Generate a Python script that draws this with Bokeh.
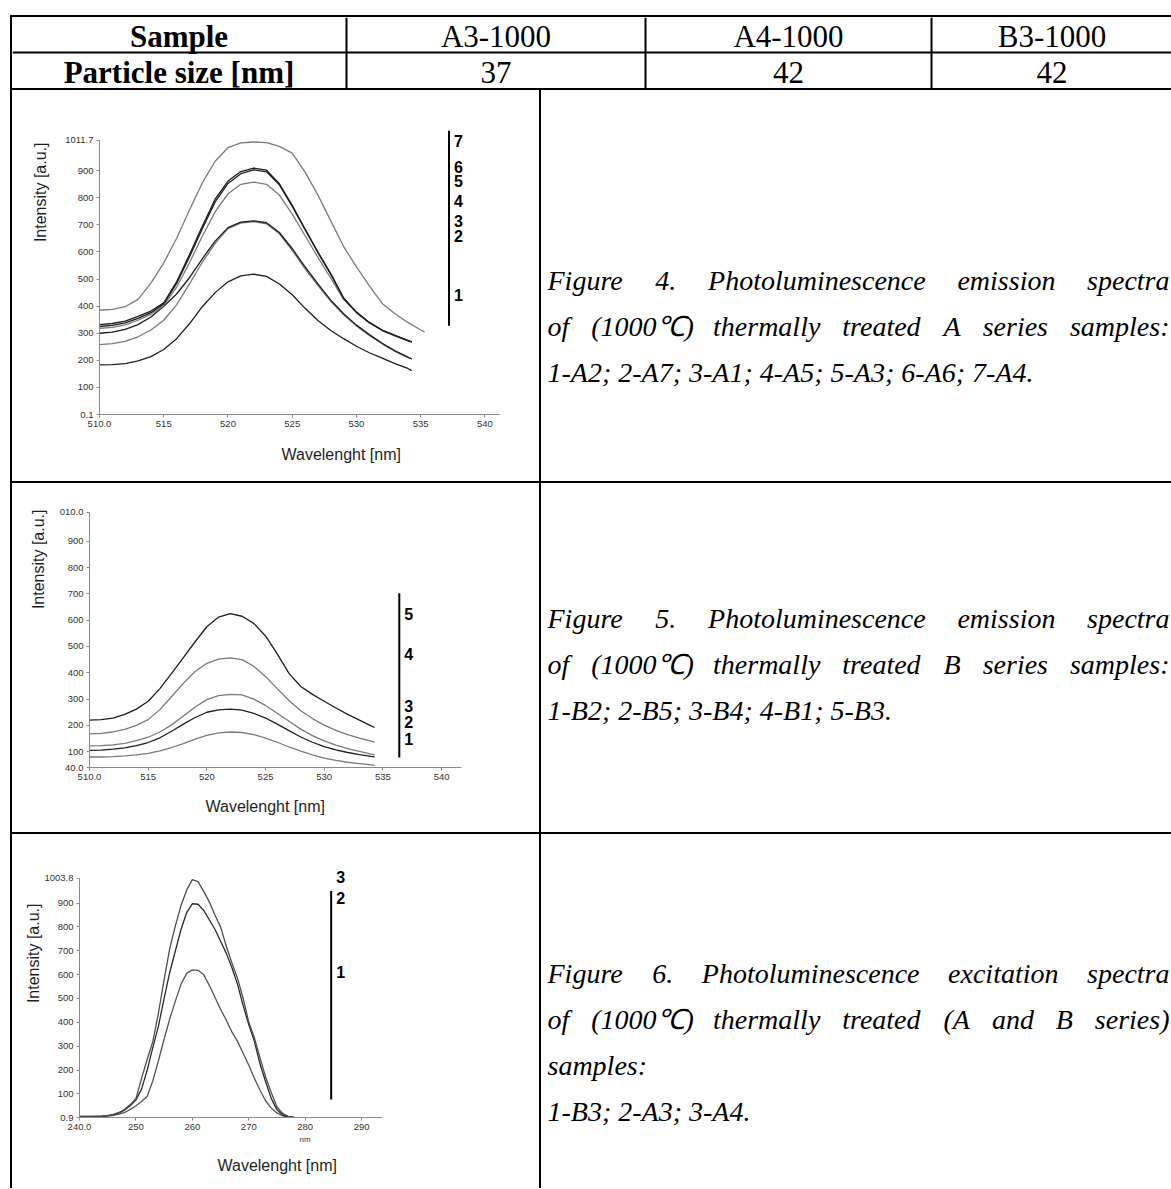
from bokeh.plotting import figure
from bokeh.layouts import column, row
from bokeh.models import Range1d, FixedTicker, Title
from bokeh.core.properties import value
from bokeh.embed import file_html
from bokeh.resources import INLINE

SANS = "Liberation Sans"
SERIF = "Liberation Serif"
DARK = "#1e1e1e"
GREY = "#7a7a7a"
AXIS = "#8a8a8a"

# ---------------- table texts ----------------
header_row1 = ["Sample", "A3-1000", "A4-1000", "B3-1000"]
header_row2 = ["Particle size [nm]", "37", "42", "42"]

caption_fig4 = ["Figure 4. Photoluminescence emission spectra",
                "of (1000\u2103) thermally treated A series samples:",
                "1-A2; 2-A7; 3-A1; 4-A5; 5-A3; 6-A6; 7-A4."]
caption_fig5 = ["Figure 5. Photoluminescence emission spectra",
                "of (1000\u2103) thermally treated B series samples:",
                "1-B2; 2-B5; 3-B4; 4-B1; 5-B3."]
caption_fig6 = ["Figure 6. Photoluminescence excitation spectra",
                "of (1000\u2103) thermally treated (A and B series)",
                "samples:",
                "1-B3; 2-A3; 3-A4."]

# ---------------- Figure 4 data (emission, A series) ----------------
fig4_wavelength = [510, 511, 512, 513, 514, 515, 516, 517, 518, 519, 520, 521, 522,
                   523, 524, 525, 526, 527, 528, 529, 530, 531, 532, 533, 534, 534.3]
fig4_wavelength_7 = [510, 511, 512, 513, 514, 515, 516, 517, 518, 519, 520, 521, 522,
                     523, 524, 525, 526, 527, 528, 529, 530, 531, 532, 533, 534, 535, 535.3]
fig4_curve1 = [183, 184, 188, 198, 214, 240, 280, 335, 398, 450, 490, 512, 518,
               510, 482, 442, 392, 347, 310, 280, 252, 228, 208, 188, 170, 162]
fig4_curve2 = [258, 262, 270, 287, 312, 348, 405, 482, 562, 632, 686, 707, 712,
               704, 667, 606, 538, 476, 418, 368, 327, 292, 261, 233, 211, 205]
fig4_curve3 = [300, 304, 314, 332, 360, 400, 445, 505, 575, 640, 690, 710, 715,
               708, 672, 612, 545, 482, 422, 372, 330, 295, 263, 235, 212, 205]
fig4_curve4 = [318, 322, 331, 348, 370, 402, 470, 560, 658, 748, 815, 850, 858,
               850, 810, 740, 660, 580, 503, 425, 376, 339, 310, 290, 272, 268]
fig4_curve5 = [325, 329, 338, 355, 376, 408, 484, 582, 686, 785, 853, 889, 903,
               896, 848, 768, 682, 597, 517, 428, 377, 339, 311, 291, 273, 268]
fig4_curve6 = [332, 336, 345, 362, 382, 412, 490, 590, 695, 795, 862, 897, 910,
               902, 852, 772, 685, 600, 520, 430, 378, 340, 312, 292, 274, 268]
fig4_curve7 = [385, 388, 398, 425, 485, 560, 650, 755, 855, 935, 985, 1003, 1006,
               1004, 990, 965, 895, 810, 715, 620, 545, 475, 410, 372, 340, 312, 305]
fig4_xticks = [510, 515, 520, 525, 530, 535, 540]
fig4_xtick_labels = ["510.0", "515", "520", "525", "530", "535", "540"]
fig4_yticks = [0.1, 100, 200, 300, 400, 500, 600, 700, 800, 900, 1011.7]
fig4_ytick_labels = ["0.1", "100", "200", "300", "400", "500", "600", "700", "800", "900", "1011.7"]
fig4_legend_labels = ["7", "6", "5", "4", "3", "2", "1"]
fig4_legend_levels = [1011, 915, 862, 788, 714, 660, 443]
fig4_legend_bar = [328, 1048]

# ---------------- Figure 5 data (emission, B series) ----------------
fig5_wavelength = [510, 511, 512, 513, 514, 515, 516, 517, 518, 519, 520, 521, 522,
                   523, 524, 525, 526, 527, 528, 529, 530, 531, 532, 533, 534, 534.3]
fig5_curve1 = [80, 80, 81, 84, 88, 94, 103, 116, 131, 148, 162, 172, 175,
               173, 165, 152, 136, 118, 102, 88, 76, 67, 60, 55, 50, 48]
fig5_curve2 = [105, 106, 110, 115, 123, 135, 153, 178, 205, 230, 250, 259, 262,
               258, 246, 228, 205, 180, 156, 136, 119, 107, 97, 89, 82, 80]
fig5_curve3 = [122, 123, 126, 132, 142, 155, 175, 202, 236, 270, 298, 313, 318,
               316, 300, 276, 246, 216, 186, 161, 141, 125, 112, 101, 91, 88]
fig5_curve4 = [168, 170, 175, 185, 200, 222, 260, 310, 360, 405, 436, 452, 457,
               450, 425, 386, 340, 295, 256, 226, 201, 181, 165, 152, 140, 136]
fig5_curve5 = [220, 222, 228, 242, 262, 292, 340, 398, 458, 518, 575, 612, 625,
               615, 588, 540, 472, 398, 348, 318, 292, 266, 242, 220, 198, 192]
fig5_xticks = [510, 515, 520, 525, 530, 535, 540]
fig5_xtick_labels = ["510.0", "515", "520", "525", "530", "535", "540"]
fig5_yticks = [40, 100, 200, 300, 400, 500, 600, 700, 800, 900, 1010]
fig5_ytick_labels = ["40.0", "100", "200", "300", "400", "500", "600", "700", "800", "900", "010.0"]
fig5_legend_labels = ["5", "4", "3", "2", "1"]
fig5_legend_levels = [622, 470, 272, 214, 148]
fig5_legend_bar = [78, 702]

# ---------------- Figure 6 data (excitation) ----------------
fig6_wavelength = [240, 241, 242, 243, 244, 245, 246, 247, 248, 249, 250, 251, 252,
                   253, 254, 255, 256, 257, 258, 259, 260, 261, 262, 263, 264, 265,
                   266, 267, 268, 269, 270, 271, 272, 273, 274, 275, 276, 277, 278]
fig6_curve1 = [4, 4, 4, 5, 6, 7, 10, 15, 22, 35, 50, 68, 90,
               155, 240, 330, 415, 490, 560, 605, 620, 618, 600, 555, 505, 455,
               410, 360, 320, 270, 220, 165, 115, 70, 40, 20, 8, 3, 1]
fig6_curve2 = [5, 5, 5, 6, 7, 9, 13, 20, 32, 50, 75, 120, 200,
               295, 385, 500, 610, 700, 790, 860, 897, 895, 870, 830, 790, 740,
               690, 630, 560, 470, 390, 320, 225, 150, 80, 33, 12, 4, 1]
fig6_curve3 = [5, 5, 5, 6, 7, 9, 14, 22, 35, 55, 80, 165, 245,
               320, 440, 580, 710, 805, 890, 955, 998, 990, 950, 905, 850, 800,
               720, 650, 585, 500, 400, 335, 250, 170, 105, 45, 18, 6, 2]
fig6_xticks = [240, 250, 260, 270, 280, 290]
fig6_xtick_labels = ["240.0", "250", "260", "270", "280", "290"]
fig6_yticks = [0.9, 100, 200, 300, 400, 500, 600, 700, 800, 900, 1003.8]
fig6_ytick_labels = ["0.9", "100", "200", "300", "400", "500", "600", "700", "800", "900", "1003.8"]
fig6_legend_labels = ["3", "2", "1"]
fig6_legend_levels = [1010, 921, 611]
fig6_legend_bar = [76, 950]

# approximate advance widths of the serif italic face (per 1000 em), used to justify lines
ITALIC_WIDTHS = {' ': 250, '(': 333, ')': 333, '-': 333, '.': 250, ':': 333, ';': 333,
                 'A': 611, 'B': 611, 'C': 667, 'F': 611, 'P': 611, '\u2103': 900,
                 'a': 500, 'b': 500, 'c': 444, 'd': 500, 'e': 444, 'f': 278, 'g': 500,
                 'h': 500, 'i': 278, 'l': 278, 'm': 722, 'n': 500, 'o': 500, 'p': 500,
                 'r': 389, 's': 389, 't': 278, 'u': 500, 'x': 444, 'y': 444}


def word_width(word, size):
    return sum(ITALIC_WIDTHS.get(c, 500) for c in word) * size / 1000.0


def frameless(p):
    if "frame_align" in p.properties():
        p.frame_align = False
    return p


def style_axis(ax, ticks, labels, bounds):
    ax.ticker = FixedTicker(ticks=ticks)
    ax.major_label_overrides = dict(zip(ticks, labels))
    ax.bounds = bounds
    ax.axis_line_color = AXIS
    ax.axis_line_width = 1
    ax.major_tick_line_color = AXIS
    ax.major_tick_in = 0
    ax.major_tick_out = 3
    ax.minor_tick_line_color = None
    ax.major_label_text_font = SANS
    ax.major_label_text_font_size = "9.5px"
    ax.major_label_text_color = "#333333"
    ax.major_label_standoff = 3


def spectrum(width, height, borders, xr, yr, xticks, xlabels, yticks, ylabels,
             curves, legend_x, legend_bar, legend_labels, legend_levels,
             xtitle, ytitle, nm_title=None):
    left, right, top, bottom = borders
    p = figure(width=width, height=height, output_backend="svg", toolbar_location=None,
               x_range=Range1d(*xr), y_range=Range1d(*yr),
               min_border_left=left, min_border_right=right,
               min_border_top=top, min_border_bottom=bottom,
               background_fill_color="white", border_fill_color="white",
               outline_line_color=None, styles={"background-color": "white"})
    frameless(p)
    p.xgrid.visible = False
    p.ygrid.visible = False
    style_axis(p.xaxis[0], xticks, xlabels, (xticks[0], xr[1]))
    style_axis(p.yaxis[0], yticks, ylabels, (yticks[0], yticks[-1]))
    for xs, ys, color in curves:
        p.line(xs, ys, line_color=color, line_width=1.3)
    p.segment(x0=[legend_x], y0=[legend_bar[0]], x1=[legend_x], y1=[legend_bar[1]],
              line_color="black", line_width=2)
    p.text(x=[legend_x] * len(legend_labels), y=legend_levels, text=legend_labels,
           x_offset=5, text_font=value(SANS), text_font_style="bold",
           text_font_size="16px", text_baseline="middle", text_color="black")
    if nm_title is not None:
        p.add_layout(Title(text="nm", align="left", offset=nm_title, standoff=0,
                           text_font=SANS, text_font_size="8px", text_font_style="normal",
                           text_color="#333333"), "below")
    xoff, xstand = xtitle
    p.add_layout(Title(text="Wavelenght [nm]", align="left", offset=xoff, standoff=xstand,
                       text_font=SANS, text_font_size="16px", text_font_style="normal",
                       text_color=DARK), "below")
    yoff, ystand = ytitle
    p.add_layout(Title(text="Intensity [a.u.]", align="right", offset=yoff, standoff=ystand,
                       text_font=SANS, text_font_size="16px", text_font_style="normal",
                       text_color=DARK), "left")
    return p


def text_cell(width, height, lines, ys, justified, x0=6, x1=628, size=28):
    p = figure(width=width, height=height, output_backend="svg", toolbar_location=None,
               x_range=Range1d(0, width), y_range=Range1d(height, 0),
               x_axis_location=None, y_axis_location=None, min_border=0,
               background_fill_color="white", border_fill_color="white",
               outline_line_color=None, styles={"background-color": "white"})
    frameless(p)
    p.grid.visible = False
    lx, ly, lt, rx, ry, rt = [], [], [], [], [], []
    for line, y, just in zip(lines, ys, justified):
        if not just:
            lx.append(x0); ly.append(y); lt.append(line)
            continue
        words = line.split(" ")
        widths = [word_width(w, size) for w in words]
        gap = (x1 - x0 - sum(widths)) / (len(words) - 1)
        x = x0
        for w, wd in zip(words[:-1], widths[:-1]):
            lx.append(x); ly.append(y); lt.append(w)
            x += wd + gap
        rx.append(x1); ry.append(y); rt.append(words[-1])
    common = dict(text_font=value(SERIF), text_font_style="italic",
                  text_font_size=f"{size}px", text_baseline="middle", text_color="black")
    p.text(x=lx, y=ly, text=lt, text_align="left", **common)
    p.text(x=rx, y=ry, text=rt, text_align="right", **common)
    return p


# ---------------- header ----------------
HW, HH = 1159, 71
header = figure(width=HW, height=HH, output_backend="svg", toolbar_location=None,
                x_range=Range1d(0, HW), y_range=Range1d(HH, 0),
                x_axis_location=None, y_axis_location=None, min_border=0,
                background_fill_color="white", border_fill_color="white",
                outline_line_color=None, styles={"background-color": "white"})
frameless(header)
header.grid.visible = False
header.segment(x0=[0, 334, 633, 919], y0=[35, 0, 0, 0], x1=[HW, 334, 633, 919], y1=[35, HH, HH, HH],
               line_color="black", line_width=2)
col_centers = [166.5, 483.5, 776, 1039.5]
header.text(x=[col_centers[0]] * 2, y=[18.5, 54.5], text=[header_row1[0], header_row2[0]],
            text_font=value(SERIF), text_font_style="bold", text_font_size="31px",
            text_align="center", text_baseline="middle", text_color="black")
header.text(x=col_centers[1:] * 2, y=[18.5] * 3 + [54.5] * 3,
            text=header_row1[1:] + header_row2[1:],
            text_font=value(SERIF), text_font_style="normal", text_font_size="31px",
            text_align="center", text_baseline="middle", text_color="black")

# ---------------- charts ----------------
chart4 = spectrum(527, 391, (87, 40, 30, 67), (510, 541.13), (0.1, 1085.4),
                  fig4_xticks, fig4_xtick_labels, fig4_yticks, fig4_ytick_labels,
                  [(fig4_wavelength, fig4_curve1, DARK), (fig4_wavelength, fig4_curve2, GREY),
                   (fig4_wavelength, fig4_curve3, DARK), (fig4_wavelength, fig4_curve4, GREY),
                   (fig4_wavelength, fig4_curve5, DARK), (fig4_wavelength, fig4_curve6, DARK),
                   (fig4_wavelength_7, fig4_curve7, GREY)],
                  537.2, fig4_legend_bar, fig4_legend_labels, fig4_legend_levels,
                  (182, 28), (22, 28))

chart5 = spectrum(527, 349, (77, 78, 22, 65), (510, 541.7), (40, 1036),
                  fig5_xticks, fig5_xtick_labels, fig5_yticks, fig5_ytick_labels,
                  [(fig5_wavelength, fig5_curve1, GREY), (fig5_wavelength, fig5_curve2, DARK),
                   (fig5_wavelength, fig5_curve3, GREY), (fig5_wavelength, fig5_curve4, GREY),
                   (fig5_wavelength, fig5_curve5, DARK)],
                  536.4, fig5_legend_bar, fig5_legend_labels, fig5_legend_levels,
                  (116, 26), (4, 20))

chart6 = spectrum(527, 354, (67, 157, 33, 71), (240, 293.7), (0.9, 1049),
                  fig6_xticks, fig6_xtick_labels, fig6_yticks, fig6_ytick_labels,
                  [(fig6_wavelength, fig6_curve1, "#555555"), (fig6_wavelength, fig6_curve2, "#2a2a2a"),
                   (fig6_wavelength, fig6_curve3, "#4d4d4d")],
                  284.6, fig6_legend_bar, fig6_legend_labels, fig6_legend_levels,
                  (138, 22), (36, 0), nm_title=220)

# caption line centres (cell-local pixels)
text4 = text_cell(630, 391, caption_fig4, [190, 236, 282], [True, True, False])
text5 = text_cell(630, 349, caption_fig5, [135, 181, 227], [True, True, False])
text6 = text_cell(630, 354, caption_fig6, [139, 185, 231, 277], [True, True, False, False])

root = column(header,
              row(chart4, text4, spacing=2),
              row(chart5, text5, spacing=2),
              row(chart6, text6, spacing=2),
              spacing=2, margin=(15, 0, 0, 10),
              styles={"background-color": "black", "padding-left": "2px", "padding-top": "2px"})

open("out.html", "w").write(file_html(root, INLINE))
